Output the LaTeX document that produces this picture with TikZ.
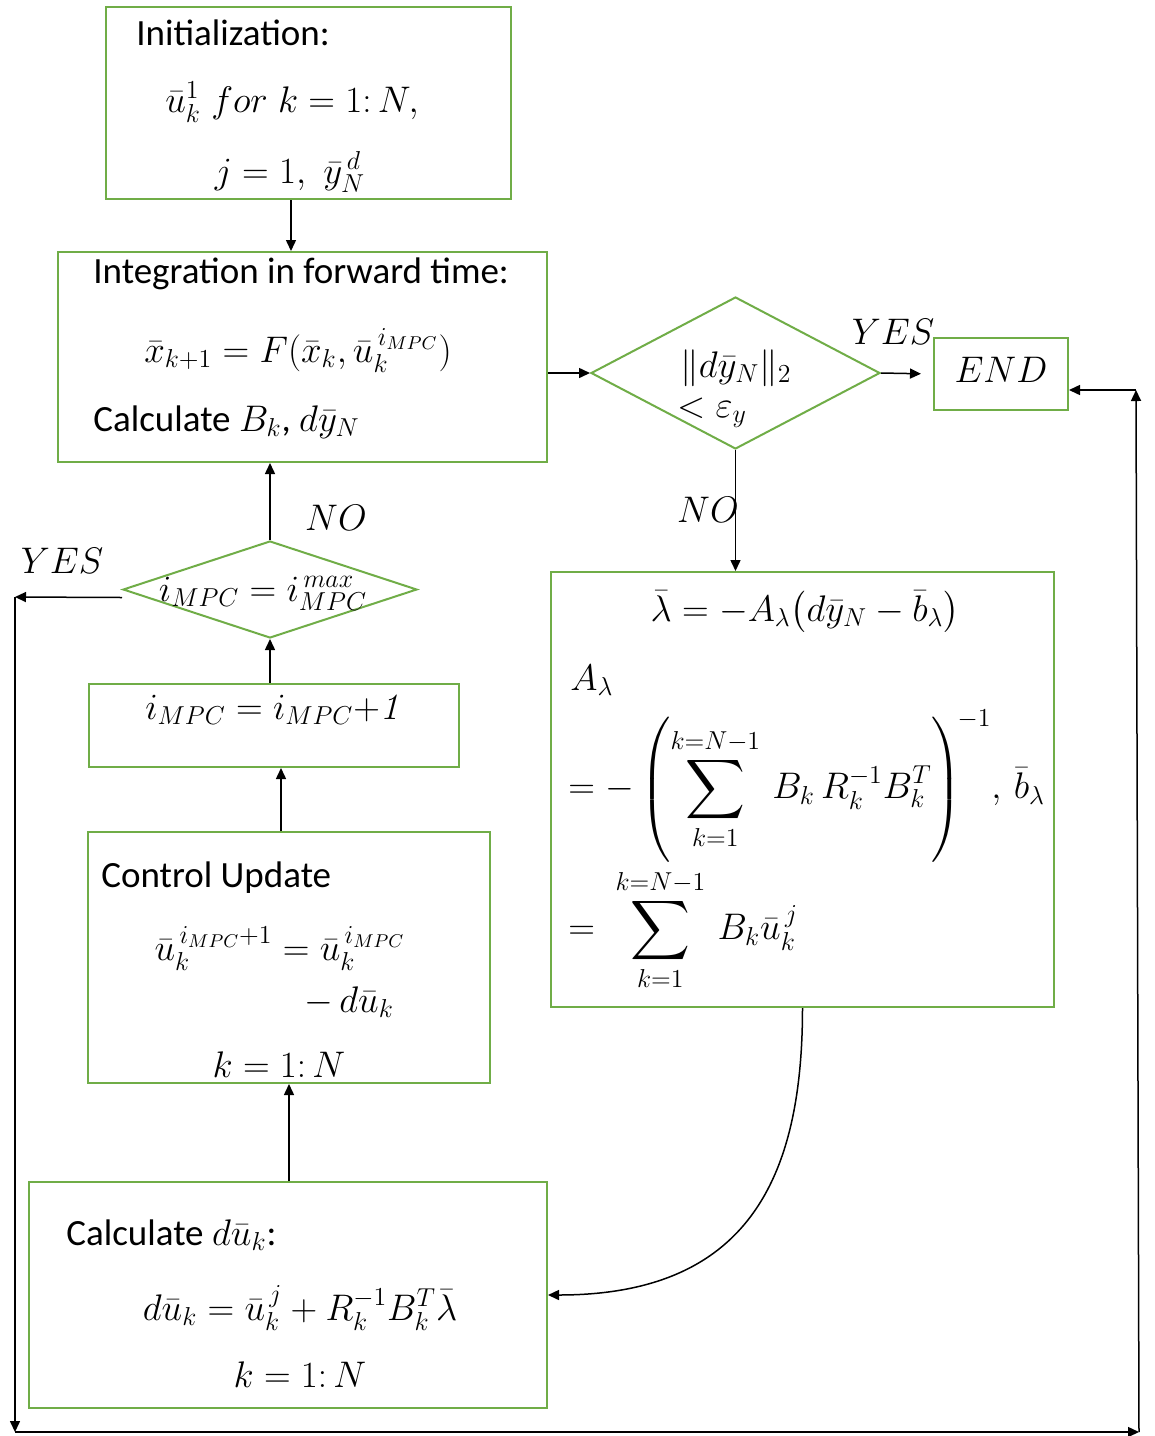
\RequirePackage{fix-cm}
\documentclass[tikz,border=0pt]{standalone}
\usepackage{fontspec}
\usepackage{amsmath}
\usetikzlibrary{shapes.geometric,arrows.meta,calc}
\newfontfamily\calib{Carlito}
\definecolor{boxgreen}{RGB}{112,173,71}
\newcommand\fsz{\fontsize{18.5}{22}\selectfont}
% enlarged summation sign with limits above and below
\newcommand\bigsum{\mathop{\vcenter{\hbox{\scalebox{1.2}{$\displaystyle\sum$}}}}\limits}
\tikzset{
  gbox/.style={draw=boxgreen, line width=1pt, rectangle, inner sep=0pt},
  gdia/.style={draw=boxgreen, line width=1pt, diamond, inner sep=0pt},
  arr/.style={draw=black, line width=0.75pt, -{Triangle[length=5.5pt,width=5pt]}},
  txt/.style={font=\fsz\calib, inner sep=0pt},
  mth/.style={font=\fsz, inner sep=0pt},
}
\begin{document}
\begin{tikzpicture}[x=0.5pt,y=-0.5pt]
\fill[white] (0,0) rectangle (1155,1436);
\useasboundingbox (0,0) rectangle (1155,1436);

% process boxes and decisions
\node[gbox, minimum width=202.5pt, minimum height=96pt]  (init) at (308.5,103) {};
\node[gbox, minimum width=244.5pt, minimum height=105pt] (integ) at (302.5,357) {};
\node[gdia, minimum width=144.5pt, minimum height=76pt]  (conv) at (735.5,373) {};
\node[gbox, minimum width=67pt, minimum height=36pt]     (endn) at (1001,374) {};
\node[gbox, minimum width=251.5pt, minimum height=217.5pt] (lam) at (802.5,789.5) {};
\node[gdia, minimum width=147pt, minimum height=48.5pt]  (iter) at (270,589.5) {};
\node[gbox, minimum width=185pt, minimum height=41.5pt]  (incr) at (274,725.5) {};
\node[gbox, minimum width=201pt, minimum height=125.5pt] (ctrl) at (289,957.5) {};
\node[gbox, minimum width=259pt, minimum height=113pt]   (du) at (288,1295) {};

% initialization
\node[txt, anchor=base west] (tinit) at (136,45) {Initialization:};
\node[mth, anchor=base] (tinit2) at (292,112) {$\bar{u}_k^1\;for\;k=1{:}\,N,$};
\node[mth, anchor=base] (tinit3) at (290,183) {$j=1,\ \bar{y}_N^{\,d}$};

% forward integration
\node[txt, anchor=base west] (tint1) at (93,283) {Integration in forward time:};
\node[mth, anchor=base] (tint2) at (298,362) {$\bar{x}_{k+1}=F(\bar{x}_k,\bar{u}_k^{\,i_{MPC}})$};
\node[txt, anchor=base west] (tint3) at (93,431) {Calculate $B_k$, $d\bar{y}_N$};

% convergence test
\node[mth, anchor=base] (tconv1) at (736,377) {$\lVert d\bar{y}_N\rVert_2$};
\node[mth, anchor=base] (tconv2) at (712,417) {$<\varepsilon_y$};
\node[mth, anchor=base] (tyes1) at (893,344) {$YES$};
\node[mth, anchor=base] (tend) at (1001,382) {$END$};
\node[mth, anchor=base] (tno1) at (708,522) {$NO$};

% multiplier
\node[mth, anchor=base] (tlam1) at (805,621) {$\bar{\lambda}=-A_\lambda\bigl(d\bar{y}_N-\bar{b}_\lambda\bigr)$};
\node[mth, anchor=base west] (tlam2) at (570,690) {$A_\lambda$};
\node[mth, anchor=west] (tlam3) at (568,786) {$\displaystyle =-\left(\vrule height 31pt depth 29pt width 0pt\bigsum_{k=1}^{k=N-1}\,B_k\,R_k^{-1}B_k^{T}\right)^{\!-1}\!,\,\bar{b}_\lambda$};
\node[mth, anchor=west] (tlam4) at (568,930) {$\displaystyle =\;\bigsum_{k=1}^{k=N-1}\,B_k\bar{u}_k^{\,j}$};

% iteration counter
\node[mth, anchor=base] (titer) at (263,601) {$i_{MPC}=i_{MPC}^{\,max}$};
\node[mth, anchor=base] (tyes2) at (62,573) {$YES$};
\node[mth, anchor=base] (tno2) at (336,530) {$NO$};
\node[mth, anchor=base] (tincr) at (272,719) {$i_{MPC}=i_{MPC}\mathit{+1}$};

% control update
\node[txt, anchor=base west] (tctrl1) at (101,887) {Control Update};
\node[mth, anchor=base] (tctrl2) at (280,960) {$\bar{u}_k^{\,i_{MPC}+1}=\bar{u}_k^{\,i_{MPC}}$};
\node[mth, anchor=base west] (tctrl3) at (304,1012) {$-\,d\bar{u}_k$};
\node[mth, anchor=base] (tctrl4) at (279,1077) {$k=1{:}\,N$};

% control correction
\node[txt, anchor=base west] (tdu1) at (66,1245) {Calculate $d\bar{u}_k$:};
\node[mth, anchor=base] (tdu2) at (300,1320) {$d\bar{u}_k=\bar{u}_k^{\,j}+R_k^{-1}B_k^{T}\bar{\lambda}$};
\node[mth, anchor=base] (tdu3) at (300,1387) {$k=1{:}\,N$};

% connectors
\coordinate (xa) at (291,0);
\coordinate (xb) at (289,0);
\coordinate (xc) at (281,0);
\draw[arr] (xa |- init.south) -- (xa |- integ.north);
\draw[arr] (integ.east |- conv.west) -- (conv.west);
\draw[arr, shorten >=6pt] (conv.east) -- (endn.west);
\draw[arr] (conv.south) -- (conv.south |- lam.north);
\draw[arr] (lam.south) .. controls ($(lam.south)+(0,170)$) and ($(du.east)+(200,0)$) .. (du.east);
\draw[arr] (xb |- du.north) -- (xb |- ctrl.south);
\draw[arr] (xc |- ctrl.north) -- (xc |- incr.south);
\draw[arr] (iter.south |- incr.north) -- (iter.south);
\draw[arr] (iter.north) -- (iter.north |- integ.south);

% return path to END
\coordinate (yl) at (15,597);
\coordinate (bl) at (15,1432);
\coordinate (br) at (1139,1432);
\coordinate (tr) at (1136,390);
\draw[arr] ([yshift=-4pt]iter.west) -- (yl);
\draw[arr] (yl) -- (bl);
\draw[arr] (bl) -- (br);
\draw[arr] (br) -- (tr);
\draw[arr] (tr) -- (tr -| endn.east);
\end{tikzpicture}
\end{document}
